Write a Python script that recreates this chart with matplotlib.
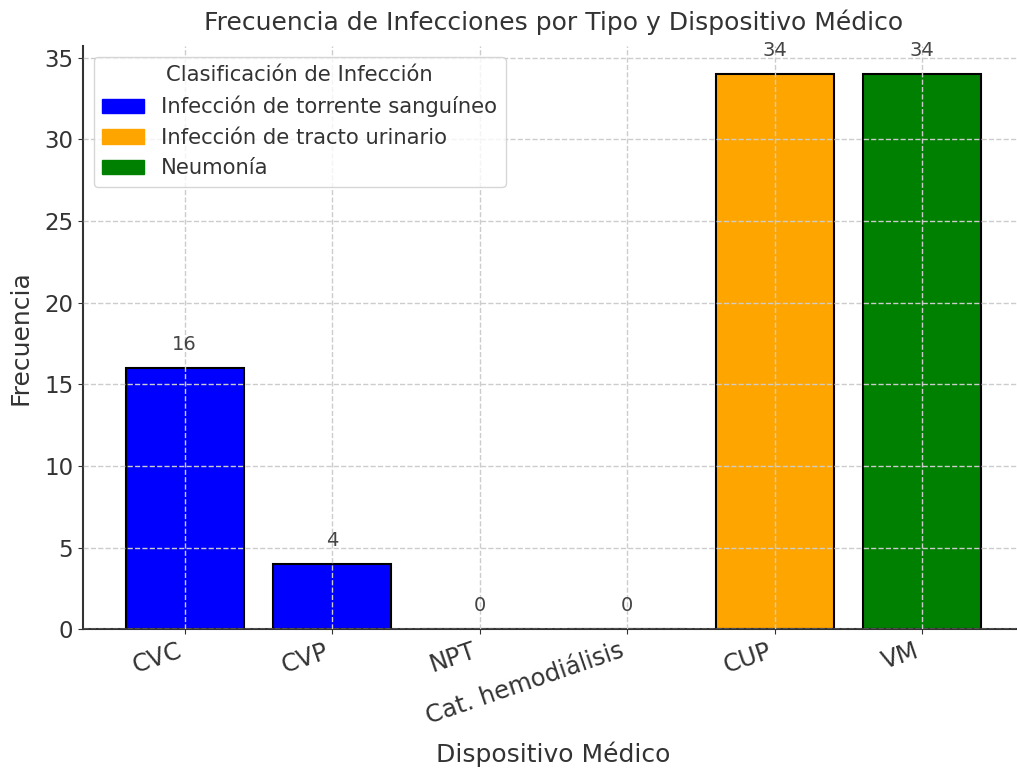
import matplotlib
matplotlib.use("Agg")
import matplotlib.pyplot as plt
from matplotlib.patches import Patch

# datos
dispositivos = ["CVC", "CVP", "NPT", "Cat. hemodiálisis", "CUP", "VM"]
frecuencias = [16, 4, 0, 0, 34, 34]
tipos = ["Infección de torrente sanguíneo", "Infección de torrente sanguíneo",
         "Infección de torrente sanguíneo", "Infección de torrente sanguíneo",
         "Infección de tracto urinario", "Neumonía"]
clasificaciones = ["Infección de torrente sanguíneo", "Infección de tracto urinario", "Neumonía"]
colores_clase = {"Infección de torrente sanguíneo": "blue",
                 "Infección de tracto urinario": "orange",
                 "Neumonía": "green"}

txt = "#333333"
plt.rcParams["text.color"] = txt
plt.rcParams["axes.labelcolor"] = txt
plt.rcParams["xtick.color"] = txt
plt.rcParams["ytick.color"] = txt

fig = plt.figure(figsize=(10.17, 7.71), dpi=100)
ax = fig.add_axes([0.0816, 0.184, 0.925, 0.756])

colores = [colores_clase[t] for t in tipos]
bars = ax.bar(dispositivos, frecuencias, color=colores, edgecolor="black", linewidth=1.5)

for b, v in zip(bars, frecuencias):
    ax.annotate(str(v), (b.get_x() + b.get_width() / 2, b.get_height()),
                xytext=(0, 10), textcoords="offset points", ha="center", va="bottom",
                fontsize=14, color="#444444")

ax.grid(True, linestyle="--", color="#cccccc", linewidth=1)
ax.set_axisbelow(False)
ax.spines["top"].set_visible(False)
ax.spines["right"].set_visible(False)
ax.spines["left"].set_color("#333333")
ax.spines["bottom"].set_color("#333333")
ax.spines["left"].set_linewidth(1.5)
ax.spines["bottom"].set_linewidth(1.5)

ax.set_title("Frecuencia de Infecciones por Tipo y Dispositivo Médico", fontsize=18, pad=12)
ax.set_xlabel("Dispositivo Médico", fontsize=18, labelpad=9)
ax.set_ylabel("Frecuencia", fontsize=18, labelpad=8)
ax.tick_params(axis="y", labelsize=16.5)
ax.tick_params(axis="x", labelsize=17.5)
plt.setp(ax.get_xticklabels(), rotation=19, ha="right")

handles = [Patch(color=colores_clase[c], label=c) for c in clasificaciones]
ax.legend(handles=handles, title="Clasificación de Infección", loc="upper left",
          fontsize=15.2, title_fontsize=15.2)

fig.savefig("out.png", dpi=100)
